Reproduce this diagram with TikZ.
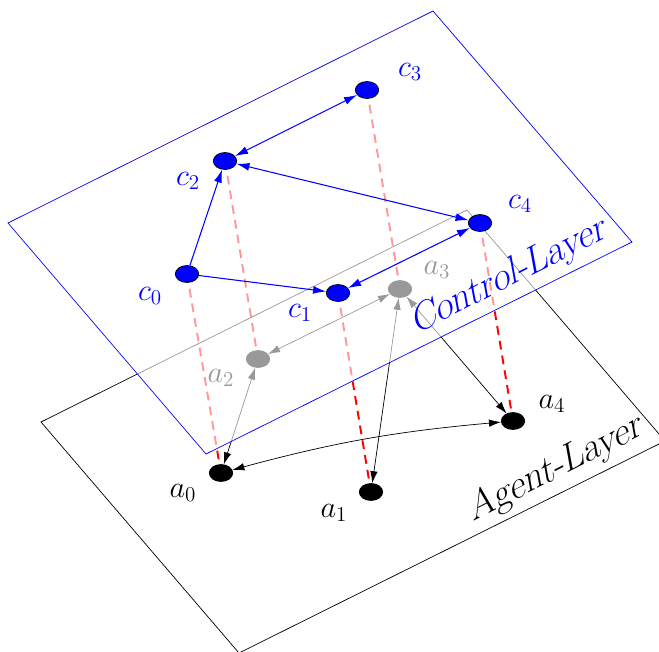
\documentclass[tikz,border=0pt]{standalone}
\usepackage{tikz}
\usetikzlibrary{calc, arrows.meta, shapes.geometric}

\tikzset{
  anode/.style={ellipse, draw=black, fill=black, minimum width=0.47cm, minimum height=0.34cm, inner sep=0pt},
  cnode/.style={ellipse, draw=black, fill=blue, minimum width=0.47cm, minimum height=0.34cm, inner sep=0pt},
  alabel/.style={font=\fontsize{18}{22}\selectfont},
  clabel/.style={font=\fontsize{18}{22}\selectfont, text=blue},
  aedge/.style={draw=black, {Latex[length=2.4mm,width=1.5mm]}-{Latex[length=2.4mm,width=1.5mm]}},
  cedge/.style={draw=blue, semithick, {Latex[length=2.6mm,width=1.6mm]}-{Latex[length=2.6mm,width=1.6mm]}},
  conedge/.style={draw=blue, semithick, -{Latex[length=2.6mm,width=1.6mm]}},
  link/.style={red, line width=1.1pt, dash pattern=on 5pt off 3.5pt},
  layertext/.style={font=\fontsize{22}{26}\selectfont, rotate=27, xslant=0.3}
}

\begin{document}
\begin{tikzpicture}[x=0.02cm, y=-0.02cm]
  \useasboundingbox (0,0) rectangle (659,652);

  % agent layer
  \coordinate (A1) at (41,422);
  \coordinate (A2) at (467,210);
  \coordinate (A3) at (665,441);
  \coordinate (A4) at (239,653);
  \draw (A1) -- (A2) -- (A3) -- (A4) -- cycle;
  \node[layertext] (agentlayer) at (557,468) {Agent-Layer};

  \node[anode] (a0) at (221,473) {};
  \node[anode] (a1) at (371,492) {};
  \node[anode] (a2) at (258,359) {};
  \node[anode] (a3) at (400,289) {};
  \node[anode] (a4) at (513,421) {};
  \node[alabel] (la0) at ($(a0)+(-38,20)$) {$a_0$};
  \node[alabel] (la1) at ($(a1)+(-37,21)$) {$a_1$};
  \node[alabel] (la2) at ($(a2)+(-37,19)$) {$a_2$};
  \node[alabel] (la3) at ($(a3)+(37,-19)$) {$a_3$};
  \node[alabel] (la4) at ($(a4)+(39,-17)$) {$a_4$};

  \draw[aedge] (a2) -- (a3);
  \draw[aedge] (a0) -- (a2);
  \draw[aedge] (a1) -- (a3);
  \draw[aedge] (a3) -- (a4);
  \draw[aedge] (a0) to[bend left=5] (a4);

  % links between the layers
  \coordinate (p0) at (187,274);
  \coordinate (p1) at (338,293);
  \coordinate (p2) at (225,161);
  \coordinate (p3) at (367,90);
  \coordinate (p4) at (480,223);
  \foreach \i in {0,...,4}
    \draw[link] (p\i) -- (a\i);

  % control layer
  \coordinate (C1) at (8,223);
  \coordinate (C2) at (433,11);
  \coordinate (C3) at (632,242);
  \coordinate (C4) at (206,454);
  \filldraw[draw=blue, fill=white, fill opacity=0.6] (C1) -- (C2) -- (C3) -- (C4) -- cycle;
  \node[layertext, text=blue] (controllayer) at (510,276) {Control-Layer};

  \node[cnode] (c0) at (p0) {};
  \node[cnode] (c1) at (p1) {};
  \node[cnode] (c2) at (p2) {};
  \node[cnode] (c3) at (p3) {};
  \node[cnode] (c4) at (p4) {};
  \node[clabel] (lc0) at ($(c0)+(-37,22)$) {$c_0$};
  \node[clabel] (lc1) at ($(c1)+(-38,20)$) {$c_1$};
  \node[clabel] (lc2) at ($(c2)+(-37,20)$) {$c_2$};
  \node[clabel] (lc3) at ($(c3)+(43,-18)$) {$c_3$};
  \node[clabel] (lc4) at ($(c4)+(40,-19)$) {$c_4$};

  \draw[conedge] (c0) -- (c2);
  \draw[conedge] (c0) -- (c1);
  \draw[cedge] (c2) -- (c3);
  \draw[cedge] (c2) -- (c4);
  \draw[cedge] (c1) -- (c4);
\end{tikzpicture}
\end{document}
